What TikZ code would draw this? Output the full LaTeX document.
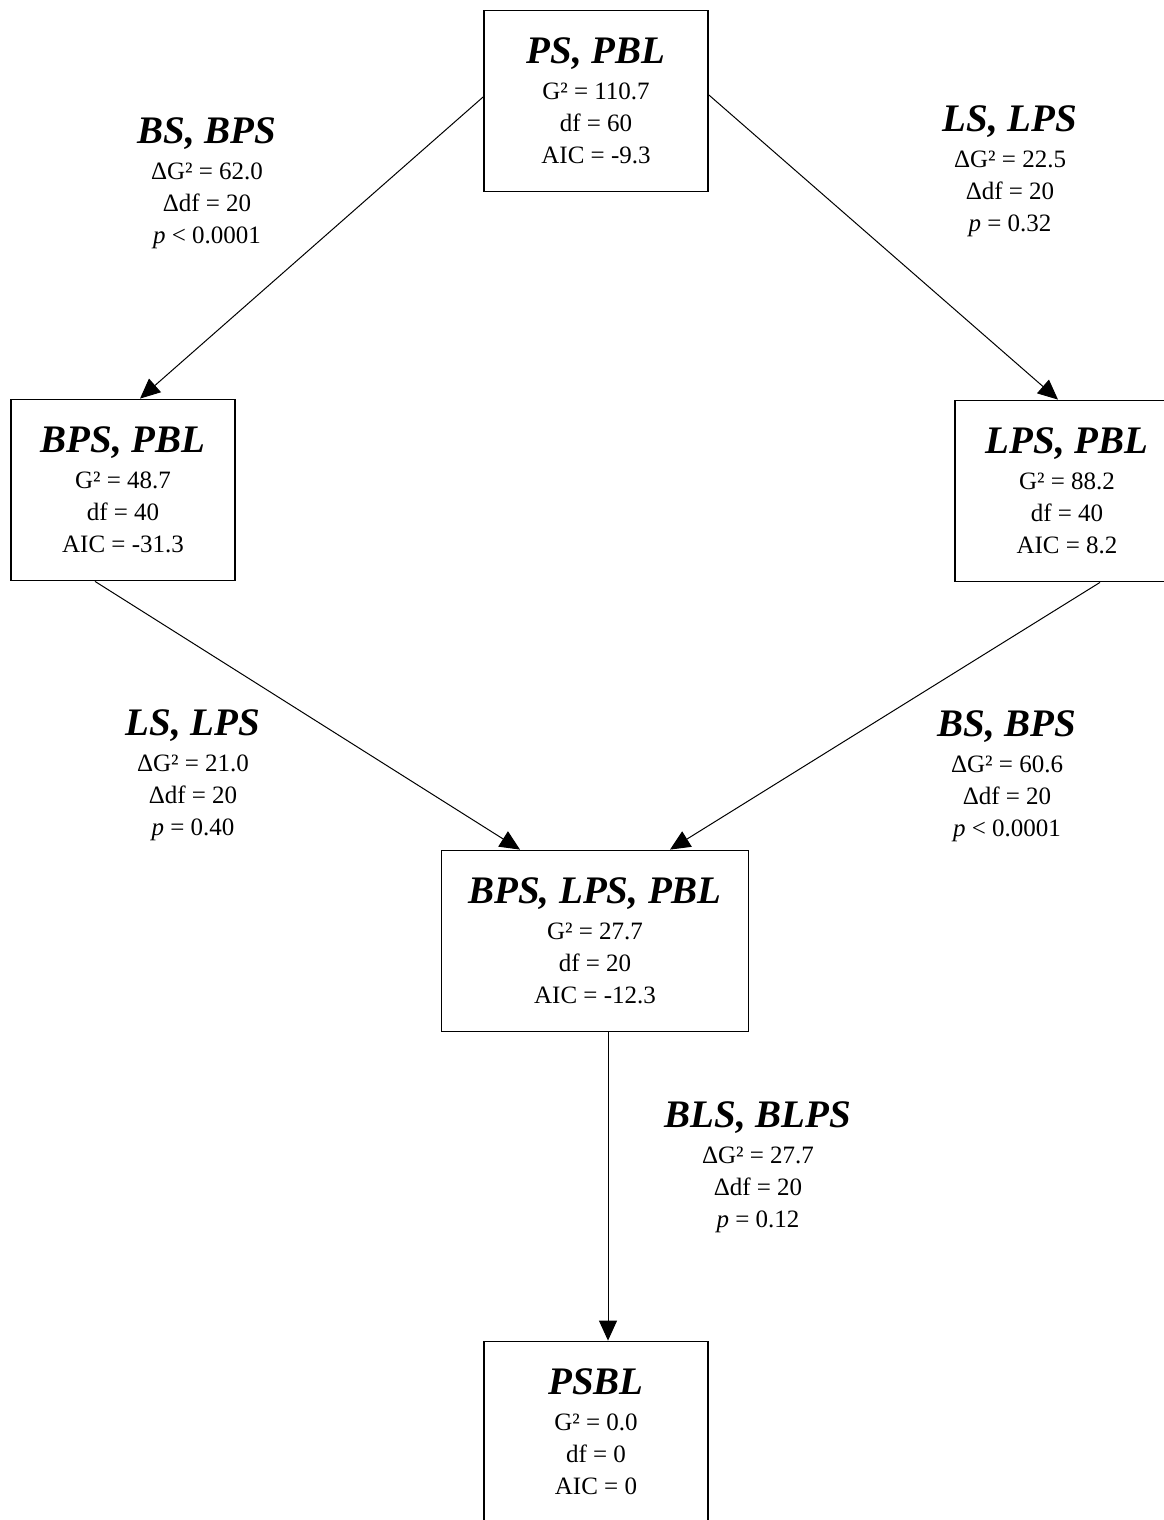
\documentclass[tikz,border=0pt]{standalone}
\usepackage{fontspec}
\setmainfont{Liberation Serif}
\usepackage{tikz}
\usetikzlibrary{arrows.meta,calc}

\newcommand{\ttl}[1]{{\fontsize{19.5}{21}\selectfont\bfseries\itshape #1}}

\begin{document}
\begin{tikzpicture}[x=0.5pt, y=-0.5pt,
    font=\fontsize{12.5}{16}\selectfont,
    box/.style={draw, line width=0.9pt, minimum width=112pt, minimum height=90.5pt, align=center, inner sep=0pt},
    lab/.style={align=center, inner sep=0pt},
    arr/.style={-{Triangle[length=10pt,width=9pt]}, line width=0.5pt}]
\useasboundingbox (0,0) rectangle (1163,1520);

\node (top) at (596, 101) [box] {\ttl{PS, PBL}\\[2pt] G² = 110.7\\ df = 60\\ AIC = -9.3};
\node (bps) at (123, 490) [box] {\ttl{BPS, PBL}\\[2pt] G² = 48.7\\ df = 40\\ AIC = -31.3};
\node (lps) at (1067, 491) [box] {\ttl{LPS, PBL}\\[2pt] G² = 88.2\\ df = 40\\ AIC = 8.2};
\node (mid) at (595, 941) [box, minimum width=153.5pt] {\ttl{BPS, LPS, PBL}\\[2pt] G² = 27.7\\ df = 20\\ AIC = -12.3};
\node (bot) at (596, 1432) [box] {\ttl{PSBL}\\[2pt] G² = 0.0\\ df = 0\\ AIC = 0};

\node (l1) at (207, 183) [lab] {\ttl{BS, BPS}\\[2pt] ΔG² = 62.0\\ Δdf = 20\\ \textit{p} < 0.0001};
\node (l2) at (1010, 171) [lab] {\ttl{LS, LPS}\\[2pt] ΔG² = 22.5\\ Δdf = 20\\ \textit{p} = 0.32};
\node (l3) at (193, 775) [lab] {\ttl{LS, LPS}\\[2pt] ΔG² = 21.0\\ Δdf = 20\\ \textit{p} = 0.40};
\node (l4) at (1007, 776) [lab] {\ttl{BS, BPS}\\[2pt] ΔG² = 60.6\\ Δdf = 20\\ \textit{p} < 0.0001};
\node (l5) at (758, 1167) [lab] {\ttl{BLS, BLPS}\\[2pt] ΔG² = 27.7\\ Δdf = 20\\ \textit{p} = 0.12};

\draw[arr] ($(top.west)+(0,-4)$) -- ($(bps.north)+(17,0)$);
\draw[arr] ($(top.east)+(0,-6)$) -- ($(lps.north)+(-9,0)$);
\draw[arr] ($(bps.south)+(-28,0)$) -- ($(mid.north)+(-75,0)$);
\draw[arr] ($(lps.south)+(33,0)$) -- ($(mid.north)+(75,0)$);
\draw[arr] ($(mid.south)+(13,0)$) -- ($(bot.north)+(12,0)$);
\end{tikzpicture}
\end{document}
